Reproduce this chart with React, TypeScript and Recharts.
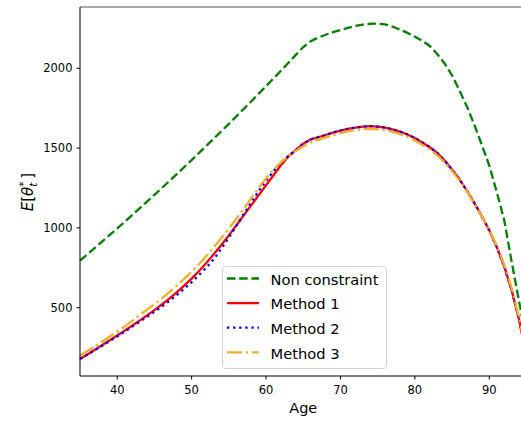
import { LineChart, Line, XAxis, YAxis, Legend, ReferenceLine } from 'recharts'

// ages on the x axis, one point per year
const AGES = [
  35, 36, 37, 38, 39, 40, 41, 42, 43, 44, 45, 46, 47, 48, 49, 50, 51, 52, 53, 54,
  55, 56, 57, 58, 59, 60, 61, 62, 63, 64, 65, 66, 67, 68, 69, 70, 71, 72, 73, 74,
  75, 76, 77, 78, 79, 80, 81, 82, 83, 84, 85, 86, 87, 88, 89, 90, 91, 92, 93, 94, 95,
]

const NON_CONSTRAINT = [
  795, 835, 875, 915, 956, 997, 1038, 1080, 1122, 1164, 1207, 1250, 1293, 1337, 1381, 1425, 1470, 1515, 1560, 1606,
  1652, 1698, 1745, 1792, 1840, 1888, 1936, 1985, 2034, 2084, 2133, 2170, 2192, 2210, 2226, 2240, 2253, 2265, 2274, 2279,
  2280, 2275, 2261, 2242, 2222, 2198, 2172, 2140, 2090, 2030, 1955, 1860, 1760, 1645, 1520, 1390, 1225, 1050, 790, 540, 290,
]

const METHOD_1 = [
  178, 207, 236, 266, 296, 326, 356, 387, 419, 451, 485, 520, 557, 596, 638, 682, 730, 781, 836, 893,
  953, 1015, 1078, 1141, 1204, 1267, 1330, 1393, 1448, 1488, 1527, 1555, 1568, 1582, 1597, 1610, 1620, 1628, 1634, 1637,
  1635, 1628, 1617, 1603, 1585, 1563, 1535, 1505, 1470, 1422, 1365, 1303, 1232, 1155, 1072, 985, 880, 760, 610, 425, 200,
]

const METHOD_2 = [
  180, 207, 234, 262, 291, 320, 350, 380, 411, 442, 474, 507, 542, 579, 618, 660, 705, 753, 805, 870,
  940, 1012, 1086, 1160, 1230, 1295, 1355, 1408, 1450, 1488, 1527, 1555, 1568, 1582, 1597, 1610, 1620, 1628, 1634, 1637,
  1635, 1628, 1617, 1603, 1585, 1563, 1535, 1505, 1470, 1422, 1365, 1303, 1232, 1155, 1072, 985, 880, 760, 610, 425, 200,
]

const METHOD_3 = [
  201, 229, 258, 288, 319, 350, 383, 417, 452, 488, 522, 558, 597, 638, 681, 726, 774, 825, 880, 937,
  996, 1057, 1120, 1185, 1250, 1310, 1365, 1410, 1448, 1482, 1512, 1535, 1552, 1567, 1581, 1594, 1605, 1613, 1618, 1620,
  1618, 1612, 1602, 1588, 1570, 1548, 1521, 1491, 1456, 1410, 1356, 1296, 1228, 1152, 1072, 988, 888, 772, 624, 436, 220,
]

const X_TICKS = [40, 50, 60, 70, 80, 90]
const Y_TICKS = [500, 1000, 1500, 2000]

const rows = AGES.map((age, i) => ({
  age,
  nonConstraint: NON_CONSTRAINT[i],
  method1: METHOD_1[i],
  method2: METHOD_2[i],
  method3: METHOD_3[i],
}))

const SERIES = [
  { key: 'nonConstraint', name: 'Non constraint', color: '#008000', dash: '8.5 3.7' },
  { key: 'method1',       name: 'Method 1',       color: '#ff0000', dash: undefined },
  { key: 'method2',       name: 'Method 2',       color: '#0000ff', dash: '2.3 3.8' },
  { key: 'method3',       name: 'Method 3',       color: '#f4ae2c', dash: '15 3.7 2.4 3.7' },
]

function LegendBox() {
  return (
    <svg width={166} height={104} style={{ display: 'block' }}>
      <rect x={0.5} y={0.5} width={164} height={102} rx={3} fill="#fff" fillOpacity={0.8} stroke="#d4d4d4" />
      {SERIES.map((s, i) => {
        const cy = 12.5 + i * 24.6
        return (
          <g key={s.key}>
            <line x1={5} x2={37} y1={cy} y2={cy} stroke={s.color} strokeWidth={2.3} strokeDasharray={s.dash} />
            <text x={48.5} y={cy + 6.3} fontSize={14.7} fill="#000">{s.name}</text>
          </g>
        )
      })}
    </svg>
  )
}

function YLabel() {
  const x = 33
  const y = 192
  return (
    <text x={x} y={y} transform={`rotate(-90 ${x} ${y})`} textAnchor="middle" fontSize={15} fill="#000">
      <tspan fontStyle="italic">E</tspan>
      <tspan>[</tspan>
      <tspan fontStyle="italic">θ</tspan>
      <tspan dy={-6} fontSize={10.5}>*</tspan>
      <tspan dx={-5.3} dy={10} fontSize={10.5} fontStyle="italic">t</tspan>
      <tspan dx={4} dy={-4}>]</tspan>
    </text>
  )
}

export default function App() {
  return (
    <div
      style={{
        position: 'absolute', left: 0, top: 0, width: 521, height: 423,
        overflow: 'hidden', background: '#fff', fontFamily: 'DejaVu Sans',
      }}
    >
      <LineChart width={540} height={423} data={rows} margin={{ top: 7, right: 13.5, bottom: 0, left: 0 }}>
        <XAxis
          dataKey="age"
          type="number"
          domain={[35, 95]}
          ticks={X_TICKS}
          height={47}
          tickSize={3.5}
          tickMargin={6}
          stroke="#000"
          tick={{ fill: '#000', fontSize: 11.5 }}
          label={{ value: 'Age', position: 'insideBottom', offset: 9.7, fontSize: 14.5, fill: '#000' }}
        />
        <YAxis
          type="number"
          domain={[72, 2384]}
          allowDataOverflow
          ticks={Y_TICKS}
          width={80}
          tickSize={3.5}
          tickMargin={4}
          stroke="#000"
          tick={{ fill: '#000', fontSize: 11.5 }}
          label={<YLabel />}
        />
        <ReferenceLine y={2384} stroke="#555" strokeWidth={1.2} ifOverflow="visible" />
        {SERIES.map(s => (
          <Line
            key={s.key}
            type="linear"
            dataKey={s.key}
            name={s.name}
            stroke={s.color}
            strokeWidth={2.3}
            strokeDasharray={s.dash}
            dot={false}
            activeDot={false}
            isAnimationActive={false}
          />
        ))}
        <Legend
          layout="vertical"
          align="center"
          verticalAlign="middle"
          content={() => <LegendBox />}
          wrapperStyle={{ left: 221.5, top: 265.5, width: 166, height: 104 }}
        />
      </LineChart>
    </div>
  )
}
